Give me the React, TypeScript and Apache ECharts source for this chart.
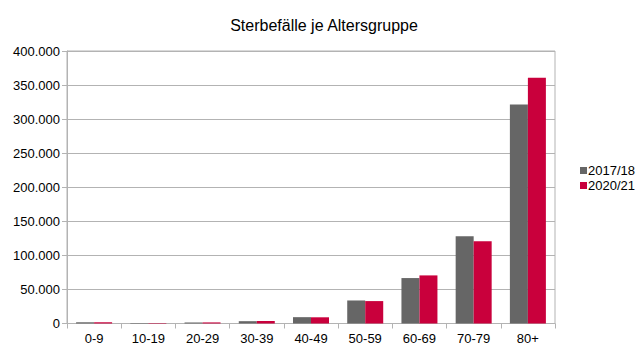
import React, { useEffect, useRef } from "react";
import * as echarts from "echarts";

const categories = ["0-9", "10-19", "20-29", "30-39", "40-49", "50-59", "60-69", "70-79", "80+"];
const series2017 = [1800, 700, 1500, 3400, 9300, 33800, 66700, 128000, 321500];
const series2021 = [1800, 700, 1600, 3700, 9100, 32900, 70600, 120600, 360700];
const seriesNames = ["2017/18", "2020/21"];
const yTicks = [0, 50000, 100000, 150000, 200000, 250000, 300000, 350000, 400000];

const fmt = (v: number) => String(Math.round(v)).replace(/\B(?=(\d{3})+(?!\d))/g, ".");

export default function App() {
  const ref = useRef<HTMLDivElement>(null);
  useEffect(() => {
    const chart = echarts.init(ref.current!, null, { renderer: "svg" });
    const font = "'Liberation Sans', Arial, sans-serif";
    chart.setOption({
      animation: false,
      backgroundColor: "#ffffff",
      textStyle: { fontFamily: font },
      title: {
        text: "Sterbefälle je Altersgruppe",
        left: 319,
        textAlign: "center",
        top: 12,
        textStyle: { fontFamily: font, fontSize: 16, fontWeight: "normal", color: "#000" },
      },
      legend: {
        orient: "vertical",
        left: 575,
        top: 159,
        itemWidth: 7,
        itemHeight: 7,
        itemGap: 2,
        icon: "rect",
        textStyle: { fontFamily: font, fontSize: 13, color: "#000", padding: [0, 0, 0, -4] },
        data: seriesNames,
      },
      grid: {
        left: 67,
        right: 85,
        top: 51,
        bottom: 27.5,
        show: true,
        borderColor: "#b3b3b3",
        borderWidth: 1,
        containLabel: false,
      },
      xAxis: {
        type: "category",
        data: categories,
        axisLine: { lineStyle: { color: "#b3b3b3" } },
        axisTick: { show: true, length: 5, alignWithLabel: false, lineStyle: { color: "#b3b3b3" } },
        axisLabel: { color: "#000", fontSize: 13, fontFamily: font, margin: 8 },
      },
      yAxis: {
        type: "value",
        min: 0,
        max: yTicks[yTicks.length - 1],
        interval: 50000,
        axisLine: { show: true, lineStyle: { color: "#b3b3b3" } },
        axisTick: { show: true, length: 5, lineStyle: { color: "#b3b3b3" } },
        splitLine: { lineStyle: { color: "#b3b3b3" } },
        axisLabel: { color: "#000", fontSize: 13, fontFamily: font, margin: 7, formatter: (v: number) => fmt(v) },
      },
      series: [
        {
          name: seriesNames[0],
          type: "bar",
          data: series2017,
          barWidth: 18,
          barGap: "0%",
          itemStyle: { color: "#666666" },
        },
        {
          name: seriesNames[1],
          type: "bar",
          data: series2021,
          barWidth: 18,
          barGap: "0%",
          itemStyle: { color: "#c9003c" },
        },
      ],
    });
    return () => chart.dispose();
  }, []);
  return (
    <div
      ref={ref}
      style={{ position: "fixed", left: 0, top: 0, width: 640, height: 351 }}
    />
  );
}
